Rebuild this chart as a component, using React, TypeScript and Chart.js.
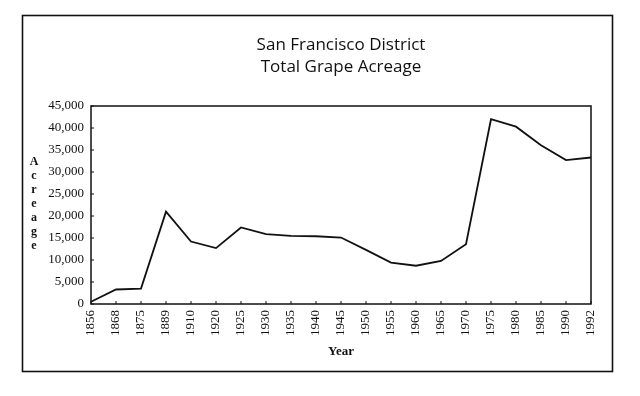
import React, { useEffect, useRef } from "react";
import { Chart, registerables } from "chart.js";

Chart.register(...registerables);

const years = [
  "1856", "1868", "1875", "1889", "1910", "1920", "1925", "1930", "1935", "1940", "1945",
  "1950", "1955", "1960", "1965", "1970", "1975", "1980", "1985", "1990", "1992",
];
const acreage = [
  500, 3300, 3500, 21000, 14200, 12700, 17400, 15900, 15500, 15400, 15100,
  12300, 9400, 8700, 9800, 13600, 42000, 40300, 36100, 32700, 33300,
];
const yMin = 0;
const yMax = 45000;
const yStep = 5000;
const titleLines = ["San Francisco District", "Total Grape Acreage"];
const xTitle = "Year";
const yTitle = "Acreage";

const decorPlugin = {
  id: "decor",
  afterDraw(chart: any) {
    const ctx = chart.ctx as CanvasRenderingContext2D;
    const a = chart.chartArea;
    ctx.save();
    ctx.strokeStyle = "#111";
    // outer frame
    ctx.lineWidth = 1.6;
    ctx.strokeRect(22.5, 15.5, 590, 356);
    // plot box
    ctx.lineWidth = 1.5;
    ctx.strokeRect(a.left, a.top, a.right - a.left, a.bottom - a.top);
    // inward ticks
    ctx.lineWidth = 1;
    const ys = chart.scales.y;
    ys.ticks.forEach((t: any, i: number) => {
      const py = ys.getPixelForTick(i);
      ctx.beginPath();
      ctx.moveTo(a.left, py);
      ctx.lineTo(a.left + 3, py);
      ctx.stroke();
    });
    const xs = chart.scales.x;
    xs.ticks.forEach((t: any, i: number) => {
      const px = xs.getPixelForTick(i);
      ctx.beginPath();
      ctx.moveTo(px, a.bottom);
      ctx.lineTo(px, a.bottom - 3);
      ctx.stroke();
    });
    // title
    ctx.fillStyle = "#111";
    ctx.textAlign = "center";
    ctx.textBaseline = "middle";
    ctx.font = "17px 'Open Sans', 'DejaVu Sans', sans-serif";
    ctx.fillText(titleLines[0], 341, 45);
    ctx.fillText(titleLines[1], 341, 67);
    // x title
    ctx.font = "bold 13px 'Liberation Serif', serif";
    ctx.fillText(xTitle, 341, 352);
    // y title stacked
    ctx.font = "bold 12px 'Liberation Serif', serif";
    const letters = yTitle.split("");
    letters.forEach((ch, i) => {
      ctx.fillText(ch, 34, 162 + i * 14);
    });
    ctx.restore();
  },
};

export default function App() {
  const ref = useRef<HTMLCanvasElement | null>(null);
  useEffect(() => {
    if (!ref.current) return;
    const chart = new Chart(ref.current, {
      type: "line",
      data: {
        labels: years,
        datasets: [
          {
            data: acreage,
            borderColor: "#111",
            borderWidth: 1.8,
            pointRadius: 0,
            tension: 0,
            fill: false,
          },
        ],
      },
      options: {
        responsive: false,
        animation: false,
        layout: { padding: { top: 106, right: 49, left: 0, bottom: 0 } },
        plugins: {
          legend: { display: false },
          title: { display: false },
          tooltip: { enabled: false },
        },
        scales: {
          x: {
            type: "category",
            offset: false,
            grid: { display: false, drawTicks: false },
            border: { display: false },
            ticks: {
              autoSkip: false,
              minRotation: 90,
              maxRotation: 90,
              padding: 6,
              color: "#111",
              font: { size: 13, family: "'Liberation Serif', serif" },
            },
            afterFit: (s: any) => {
              s.height = 92;
            },
          },
          y: {
            min: yMin,
            max: yMax,
            grid: { display: false, drawTicks: false },
            border: { display: false },
            ticks: {
              stepSize: yStep,
              padding: 7,
              color: "#111",
              font: { size: 13, family: "'Liberation Serif', serif" },
              callback: (v: any) => Number(v).toLocaleString("en-US"),
            },
            afterFit: (s: any) => {
              s.width = 91;
            },
          },
        },
      },
      plugins: [decorPlugin],
    });
    return () => chart.destroy();
  }, []);
  return (
    <div style={{ position: "absolute", left: 0, top: 0, width: 640, height: 396, background: "#fff" }}>
      <canvas ref={ref} width={640} height={396} style={{ display: "block" }} />
    </div>
  );
}
